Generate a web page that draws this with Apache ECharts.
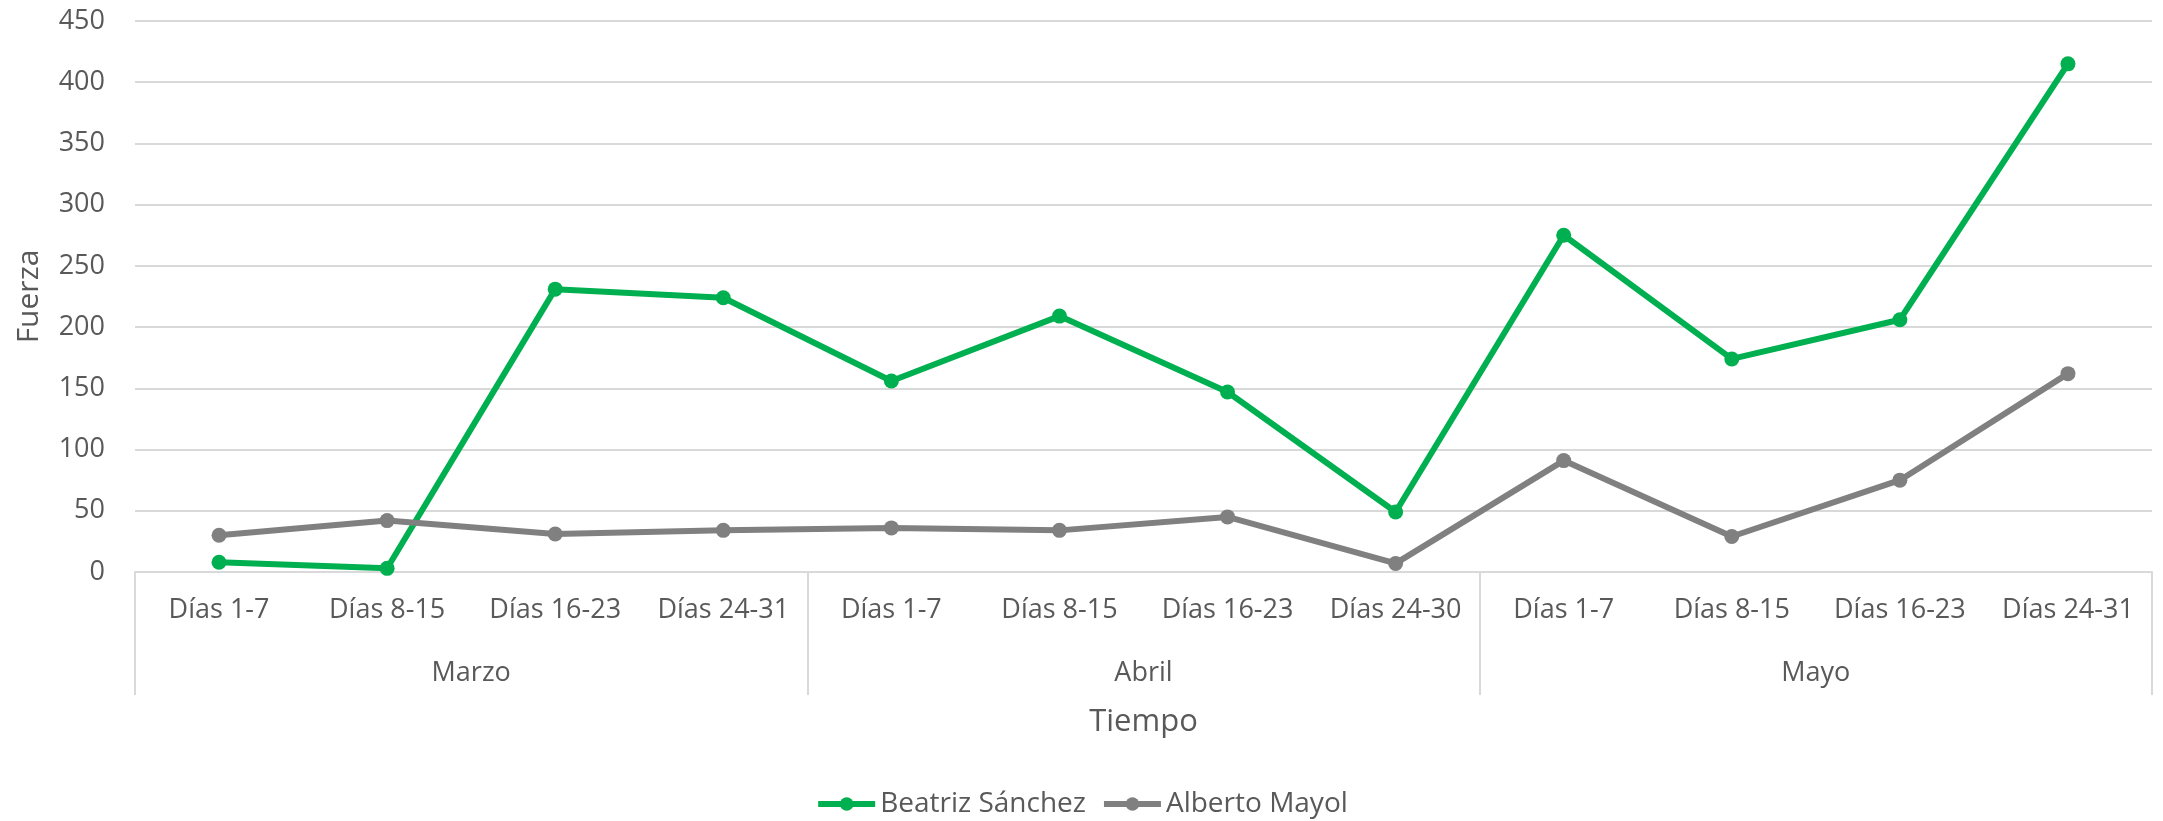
<!DOCTYPE html>
<html>
<head>
<meta charset="utf-8">
<script src="https://cdn.jsdelivr.net/npm/echarts@6/dist/echarts.min.js"></script>
<style>
html,body{margin:0;padding:0;background:#fff;}
#c{width:2163px;height:821px;}
</style>
</head>
<body>
<div id="c"></div>
<script>
const days = ['Días 1-7','Días 8-15','Días 16-23','Días 24-31','Días 1-7','Días 8-15','Días 16-23','Días 24-30','Días 1-7','Días 8-15','Días 16-23','Días 24-31'];
const months = ['Marzo','Abril','Mayo'];
const beatriz = [8, 3, 231, 224, 156, 209, 147, 49, 275, 174, 206, 415];
const alberto = [30, 42, 31, 34, 36, 34, 45, 7, 91, 29, 75, 162];
const seriesNames = ['Beatriz Sánchez','Alberto Mayol'];
const yTicks = {min: 0, max: 450, interval: 50};

const FONT = 'Open Sans';
const TXT = '#595959';
const GRID = '#d9d9d9';

const chart = echarts.init(document.getElementById('c'));
chart.setOption({
  animation: false,
  backgroundColor: '#ffffff',
  textStyle: {fontFamily: FONT, color: TXT},
  grid: {left: 135, right: 11, top: 21, bottom: 249, containLabel: false},
  legend: {
    top: 785, left: 'center',
    itemWidth: 57, itemHeight: 17, itemGap: 15,
    lineStyle: {width: 6},
    textStyle: {fontFamily: FONT, fontSize: 28, color: TXT},
    data: seriesNames
  },
  xAxis: [
    {
      type: 'category', data: days, position: 'bottom',
      boundaryGap: true,
      axisLine: {show: true, lineStyle: {color: GRID, width: 2}},
      axisTick: {show: false},
      axisLabel: {interval: 0, margin: 25, fontSize: 27, color: TXT, fontFamily: FONT},
      splitLine: {show: false}
    },
    {
      type: 'category', data: months, position: 'bottom',
      boundaryGap: true,
      axisLine: {show: false},
      axisTick: {show: true, length: 123, alignWithLabel: false, lineStyle: {color: GRID, width: 2}},
      axisLabel: {interval: 0, margin: 88, fontSize: 27, color: TXT, fontFamily: FONT},
      name: 'Tiempo', nameLocation: 'middle', nameGap: 135,
      nameTextStyle: {fontSize: 31, color: TXT, fontFamily: FONT},
      splitLine: {show: false}
    }
  ],
  yAxis: {
    type: 'value', min: yTicks.min, max: yTicks.max, interval: yTicks.interval,
    axisLine: {show: false}, axisTick: {show: false},
    axisLabel: {margin: 30, fontSize: 27, color: TXT, fontFamily: FONT},
    splitLine: {lineStyle: {color: GRID, width: 2}},
    name: 'Fuerza', nameLocation: 'middle', nameGap: 91,
    nameTextStyle: {fontSize: 30, color: TXT, fontFamily: FONT}
  },
  series: [
    {
      name: seriesNames[0], type: 'line', data: beatriz, xAxisIndex: 0,
      symbol: 'circle', symbolSize: 15,
      lineStyle: {color: '#00B050', width: 6},
      itemStyle: {color: '#00B050'}
    },
    {
      name: seriesNames[1], type: 'line', data: alberto, xAxisIndex: 0,
      symbol: 'circle', symbolSize: 15,
      lineStyle: {color: '#808080', width: 6},
      itemStyle: {color: '#808080'}
    }
  ]
});
</script>
</body>
</html>
